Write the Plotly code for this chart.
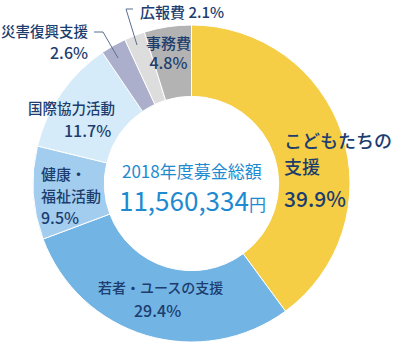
import plotly.graph_objects as go

categories = ["こどもたちの支援", "若者・ユースの支援", "健康・福祉活動", "国際協力活動", "災害復興支援", "広報費", "事務費"]
values = [39.9, 29.4, 9.5, 11.7, 2.6, 2.1, 4.8]
colors = ["#F5CE45", "#72B4E4", "#A3CDEF", "#D5EBF9", "#ABAFCB", "#DDDDDD", "#B3B3B3"]
total_title = "2018年度募金総額"
total_amount = "11,560,334"
total_unit = "円"

W, H = 395, 343
def px(x):
    return x / W
def py(y):
    return 1 - y / H

NAVY = "#1C3D6E"
BLUE = "#1E8AD0"
FONT = "Noto Sans CJK JP"

fig = go.Figure(go.Pie(
    labels=categories, values=values, sort=False, direction="clockwise", rotation=0,
    hole=0.55, marker=dict(colors=colors, line=dict(color="white", width=1)),
    textinfo="none", hoverinfo="label+percent", showlegend=False,
    domain=dict(x=[px(33), px(350)], y=[py(342), py(25)]),
))

ann = []
def add(text, x, y, size, color=NAVY, xanchor="left", weight=500, align="left"):
    ann.append(dict(text=text, x=px(x), y=py(y), xref="paper", yref="paper",
                    xanchor=xanchor, yanchor="middle", showarrow=False, align=align,
                    font=dict(family=FONT, size=size, color=color, weight=weight)))

add("こどもたちの", 282, 140, 18)
add("支援", 282, 166, 18)
add(f"{values[0]}%", 282, 198, 21)
add("若者・ユースの支援", 160, 287, 14, xanchor="center")
add(f"{values[1]}%", 157, 310, 16, xanchor="center")
add("健康・", 39, 173, 15)
add("福祉活動", 39, 195, 15)
add(f"{values[2]}%", 39, 217, 16)
add("国際協力活動", 71, 108, 14.5, xanchor="center")
add(f"{values[3]}%", 113, 130, 16, xanchor="right")
add("災害復興支援", 91, 31, 14.5, xanchor="right")
add(f"{values[4]}%", 90, 52, 16, xanchor="right")
add(f"広報費 {values[5]}%", 138, 12, 15)
add(f"事務費<br><span style='font-size:16px'>{values[6]}%</span>", 168.5, 53, 15,
    xanchor="center", align="center")
add(total_title, 192, 170, 17, color=BLUE, xanchor="center", weight=400)
add(f"<span style='font-size:26px'>{total_amount}</span>{total_unit}", 192, 199, 17,
    color=BLUE, xanchor="center", weight=400)

shapes = [
    dict(type="path", path=f"M {px(94)} {py(32)} L {px(103)} {py(32)} L {px(118)} {py(58)}",
         xref="paper", yref="paper", line=dict(color="#5A6F8E", width=1)),
    dict(type="path", path=f"M {px(133)} {py(9)} L {px(126)} {py(9)} L {px(137)} {py(45)}",
         xref="paper", yref="paper", line=dict(color="#5A6F8E", width=1)),
]

fig.update_layout(width=W, height=H, margin=dict(l=0, r=0, t=0, b=0),
                  paper_bgcolor="white", plot_bgcolor="white",
                  annotations=ann, shapes=shapes)
fig.write_html("out.html")
